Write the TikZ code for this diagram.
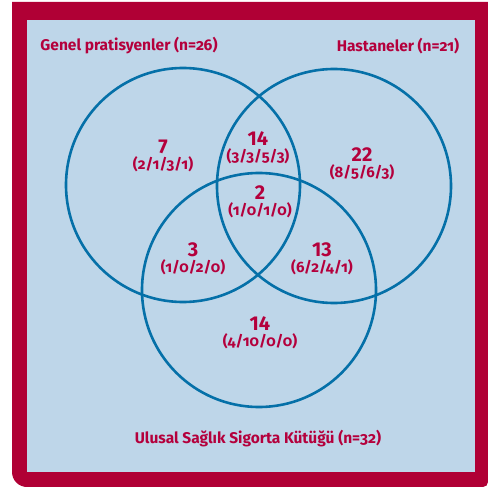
\documentclass[tikz,border=0pt]{standalone}
\usepackage{fontspec}
\setmainfont{Fira Sans}
\newfontfamily\oldnum{Fira Sans}[Numbers=OldStyle]
\usetikzlibrary{positioning}
\definecolor{VennCrimson}{HTML}{B00035}
\definecolor{VennText}{HTML}{B4003C}
\definecolor{VennBack}{HTML}{BED6E9}
\definecolor{VennBlue}{HTML}{0570A8}
\tikzset{
  set/.style={
    circle,
    draw=VennBlue,
    line width=2.6pt,
    minimum size=234pt,
    inner sep=0pt
  },
  setname/.style={
    text=VennText,
    font=\oldnum\bfseries\fontsize{15.5}{17}\selectfont,
    inner sep=0pt
  },
  count/.style={
    text=VennText,
    font=\bfseries\fontsize{20}{22}\selectfont,
    inner sep=0pt
  },
  split/.style={
    text=VennText,
    font=\oldnum\bfseries\fontsize{15}{17}\selectfont,
    inner sep=0pt
  }
}

\begin{document}
\begin{tikzpicture}[x=1pt,y=-1pt]
  \useasboundingbox (0,0) rectangle (488,487);
  % Frame: crimson border with rounded lower corners.
  \fill[VennCrimson] (12,2) -- (488,2) -- (488,482) [rounded corners=5pt] -- (488,487) [rounded corners=15pt] -- (12,487) [sharp corners] -- cycle;
  \fill[VennBack] (27,20) rectangle (475,472);

  % The three sets.
  \node[set] (gp)  at (183,185) {};
  \node[set] (hos) at (334,186) {};
  \node[set] (reg) at (259,290) {};

  \node[setname] (gpname)  at (129,46)  {Genel pratisyenler (n=26)};
  \node[setname] (hosname) at (398,46)  {Hastaneler (n=21)};
  \node[setname] (regname) at (258,439) {Ulusal Sağlık Sigorta Kütüğü (n=32)};

  % Region counts with their breakdowns.
  \node[count] (onlygp)   at (163,147) {7};
  \node[split, below=2pt of onlygp]   {(2/1/3/1)};
  \node[count] (gphos)    at (258,139) {14};
  \node[split, below=2pt of gphos]    {(3/3/5/3)};
  \node[count] (onlyhos)  at (362,155) {22};
  \node[split, below=2pt of onlyhos]  {(8/5/6/3)};
  \node[count] (all)      at (260,193) {2};
  \node[split, below=2pt of all]      {(1/0/1/0)};
  \node[count] (gpreg)    at (193,250) {3};
  \node[split, below=2pt of gpreg]    {(1/0/2/0)};
  \node[count] (hosreg)   at (322,250) {13};
  \node[split, below=2pt of hosreg]   {(6/2/4/1)};
  \node[count] (onlyreg)  at (260,324) {14};
  \node[split, below=2pt of onlyreg]  {(4/10/0/0)};
\end{tikzpicture}
\end{document}
